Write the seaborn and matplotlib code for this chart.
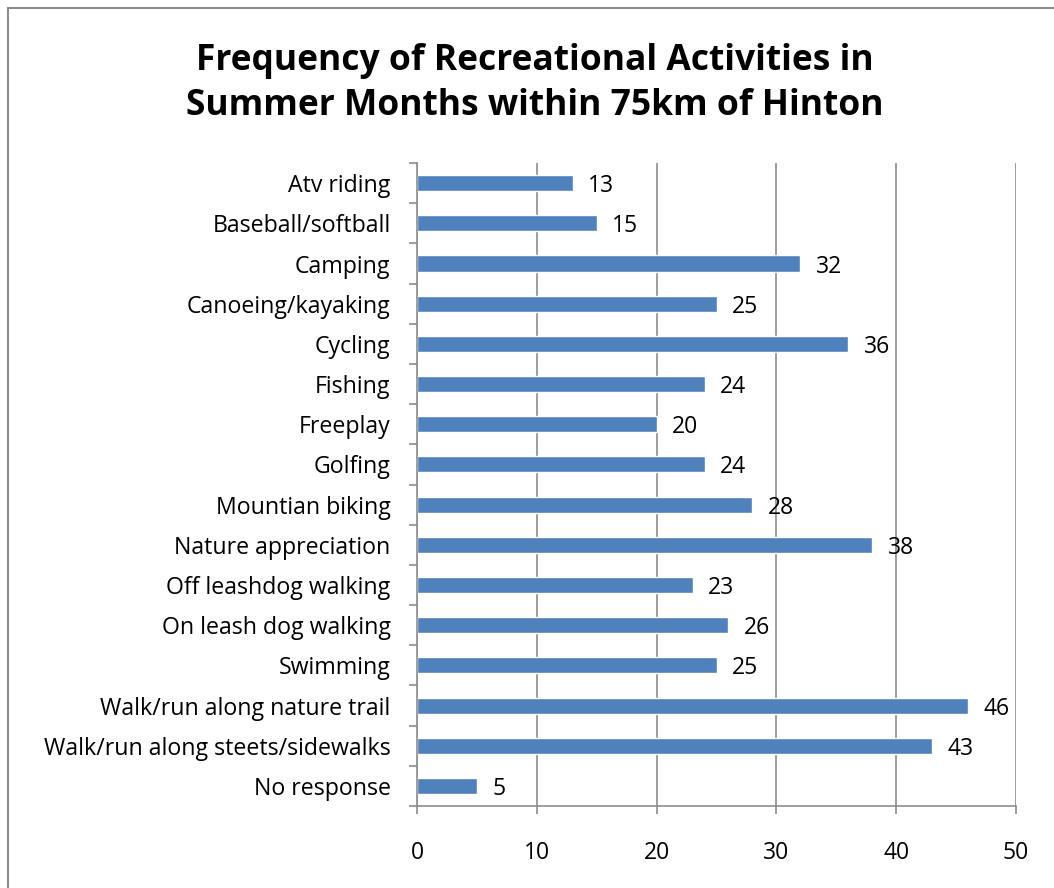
import matplotlib.pyplot as plt
import matplotlib.patches as mpatches
import seaborn as sns
import pandas as pd

# Datos
actividades = [
    'Atv riding', 'Baseball/softball', 'Camping', 'Canoeing/kayaking',
    'Cycling', 'Fishing', 'Freeplay', 'Golfing', 'Mountian biking',
    'Nature appreciation', 'Off leashdog walking', 'On leash dog walking',
    'Swimming', 'Walk/run along nature trail',
    'Walk/run along steets/sidewalks', 'No response'
]
frecuencia = [13, 15, 32, 25, 36, 24, 20, 24, 28, 38, 23, 26, 25, 46, 43, 5]
ticks_x = [0, 10, 20, 30, 40, 50]

df = pd.DataFrame({'actividad': actividades, 'frecuencia': frecuencia})

sns.set_style("white")
plt.rcParams['font.family'] = ['Open Sans', 'DejaVu Sans']
plt.rcParams['text.color'] = 'black'
plt.rcParams['xtick.color'] = 'black'
plt.rcParams['ytick.color'] = 'black'

fig = plt.figure(figsize=(10.54, 8.88), dpi=100)
ax = fig.add_axes([0.3956, 0.0923, 0.5684, 0.7241])

sns.barplot(data=df, x='frecuencia', y='actividad', order=actividades,
            color='#4F81BD', saturation=1, width=0.4, ax=ax)

# Etiquetas de valor
for c in ax.containers:
    etiquetas = ax.bar_label(c, padding=11, fontsize=16.5)
    for t in etiquetas:
        t.set_va('center_baseline')

ax.set_xlim(0, 50)
ax.set_xticks(ticks_x)
ax.set_ylim(len(actividades) - 0.5, -0.5)
ax.set_xlabel('')
ax.set_ylabel('')
ax.xaxis.grid(True, color='#8c8c8c', linewidth=1.2)
ax.set_axisbelow(True)

# Marcas del eje y entre categorías (estilo Excel)
ax.set_yticks([i - 0.5 for i in range(len(actividades) + 1)], minor=True)
ax.tick_params(axis='y', which='major', length=0, labelsize=16.7, pad=19)
ax.tick_params(axis='y', which='minor', length=6, color='#8c8c8c', width=1.2, left=True)
ax.tick_params(axis='x', which='major', length=6, color='#8c8c8c', width=1.2,
               bottom=True, labelsize=16.5, labelcolor='black', pad=19)

for s in ['top', 'right']:
    ax.spines[s].set_visible(False)
for s in ['left', 'bottom']:
    ax.spines[s].set_color('#8c8c8c')
    ax.spines[s].set_linewidth(1.2)

fig.suptitle('Frequency of Recreational Activities in\nSummer Months within 75km of Hinton',
             x=0.507, y=0.952, fontsize=25.5, fontweight='bold', linespacing=1.36,
             color='black')

# Marco del gráfico
borde = mpatches.Rectangle((8 / 1054, -0.1), 1.2, 1 - 8 / 888 + 0.1,
                           transform=fig.transFigure, fill=False,
                           edgecolor='#8c8c8c', linewidth=1.5)
fig.patches.append(borde)

fig.savefig('out.png', dpi=100)
